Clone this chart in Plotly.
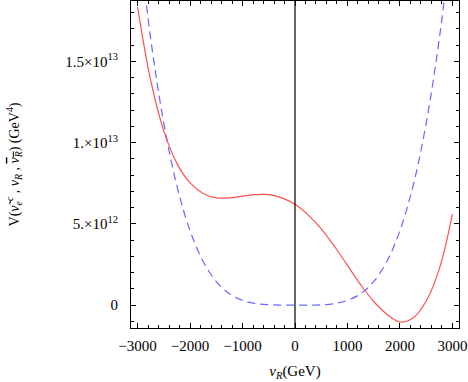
import plotly.graph_objects as go

# x positions (GeV)
nu_R = [-3000, -2750, -2500, -2250, -2000, -1750, -1500, -1250, -1000, -750, -500, -250,
        0, 250, 500, 750, 1000, 1250, 1500, 1750, 2000, 2250, 2500, 2750, 3000]

# potential values in units of 1e12 GeV^4
V_red = [18.35, 13.82, 10.72, 8.72, 7.52, 6.87, 6.6, 6.6, 6.7, 6.8, 6.8, 6.6,
         6.2, 5.55, 4.69, 3.62, 2.44, 1.26, 0.22, -0.56, -1.04, -0.8, 0.25, 2.23, 5.6]
V_blue = [23.2, 16.4, 11.2, 7.33, 4.58, 2.68, 1.45, 0.70, 0.29, 0.09, 0.02, 0.0,
          0.0, 0.0, 0.02, 0.09, 0.29, 0.70, 1.45, 2.68, 4.58, 7.33, 11.2, 16.4, 23.2]

x_ticks = [-3000, -2000, -1000, 0, 1000, 2000, 3000]
y_tickvals = [0, 5e12, 1e13, 1.5e13]
y_ticktext = ["0", "5.×10<sup>12</sup>", "1.×10<sup>13</sup>", "1.5×10<sup>13</sup>"]

scale = 1e12
font_family = "Liberation Serif"

fig = go.Figure()
fig.add_trace(go.Scatter(x=nu_R, y=[v * scale for v in V_blue], mode="lines",
                         line=dict(color="rgb(105,105,255)", width=1.2, dash="8px,5px", shape="spline"),
                         showlegend=False, hoverinfo="skip"))
fig.add_trace(go.Scatter(x=nu_R, y=[v * scale for v in V_red], mode="lines",
                         line=dict(color="rgb(255,80,80)", width=1.2, shape="spline"),
                         showlegend=False, hoverinfo="skip"))

fig.add_vline(x=0, line=dict(color="black", width=1.2))

axis_common = dict(showgrid=False, zeroline=False, showline=True, linecolor="black",
                   linewidth=1, mirror="allticks", ticks="inside", tickcolor="black",
                   tickfont=dict(family=font_family, size=15, color="black"))

fig.update_xaxes(range=[-3125, 3125], tickvals=x_ticks, ticklen=5,
                 minor=dict(dtick=200, tick0=0, ticklen=3, ticks="inside", tickcolor="black"),
                 title=dict(text="<i>ν<sub>R</sub></i>(GeV)", font=dict(family=font_family, size=15, color="black"),
                            standoff=12),
                 ticklabelstandoff=4, automargin=False,
                 **axis_common)
fig.update_yaxes(range=[-1.41e12, 18.71e12], tickvals=y_tickvals, ticktext=y_ticktext, ticklen=5,
                 minor=dict(dtick=1e12, tick0=0, ticklen=3, ticks="inside", tickcolor="black"),
                 title=dict(text="V(<i>ν̃</i><sub><i>e</i></sub><sup><i>c</i></sup> , <i>ν<sub>R</sub></i> , "
                                 "<span style='text-decoration:overline'><i>ν<sub>R</sub></i></span>) (GeV<sup>4</sup>)",
                            font=dict(family=font_family, size=14, color="black"), standoff=42),
                 ticklabelstandoff=9, automargin=False,
                 **axis_common)

fig.update_layout(width=468, height=382, margin=dict(l=131, r=9, t=1, b=54),
                  paper_bgcolor="white", plot_bgcolor="white",
                  font=dict(family=font_family, color="black"))

fig.write_html("out.html", config={"displayModeBar": False},
               post_script="document.body.style.margin='0px';")
